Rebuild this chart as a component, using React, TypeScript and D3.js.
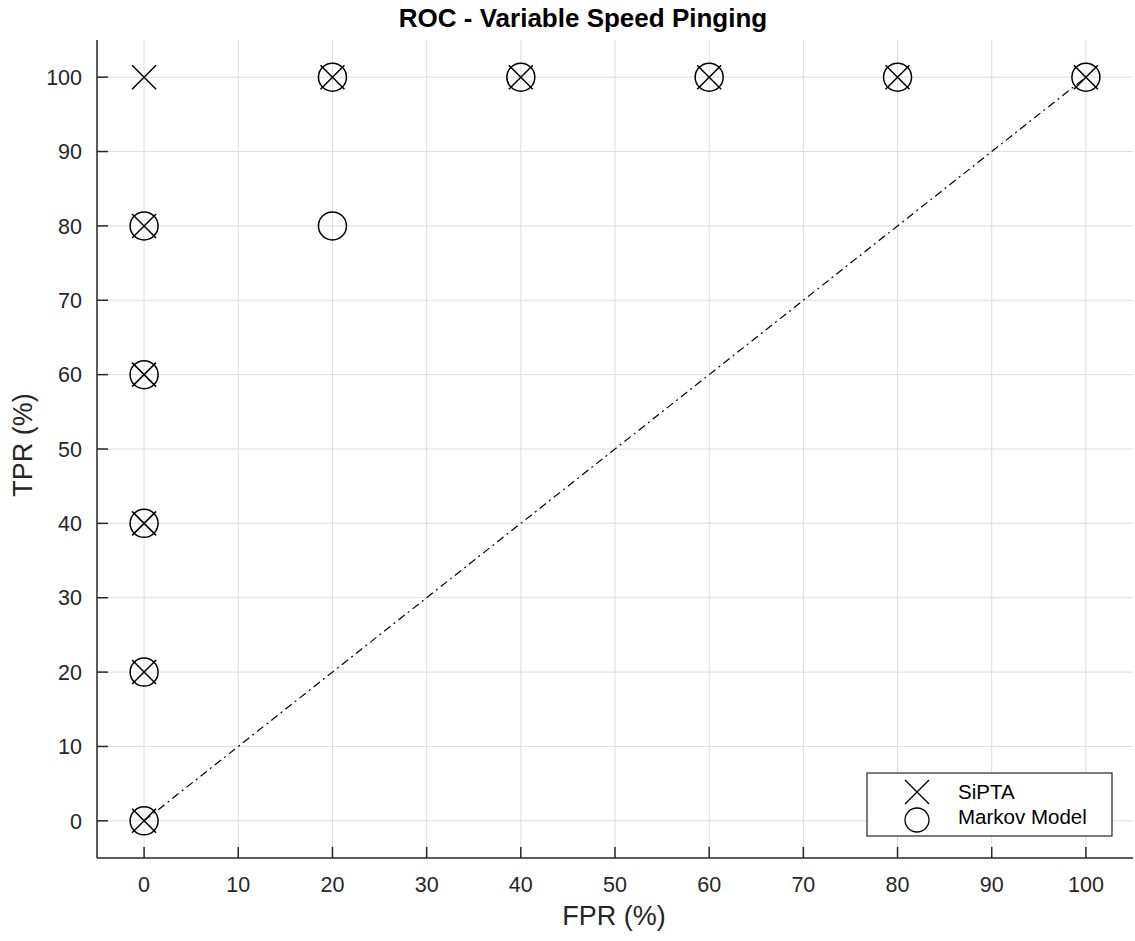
import React from 'react';
import * as d3 from 'd3';

const xTicks = [0, 10, 20, 30, 40, 50, 60, 70, 80, 90, 100];
const yTicks = [0, 10, 20, 30, 40, 50, 60, 70, 80, 90, 100];

// SiPTA points (FPR, TPR)
const sipta = [
  [0, 100], [20, 100], [40, 100], [60, 100], [80, 100], [100, 100],
  [0, 80], [0, 60], [0, 40], [0, 20], [0, 0],
];

// Markov Model points
const markov = [
  [20, 100], [40, 100], [60, 100], [80, 100], [100, 100],
  [0, 80], [20, 80], [0, 60], [0, 40], [0, 20], [0, 0],
];

const chance = [[0, 0], [100, 100]];

const width = 1135;
const height = 941;
const margin = { top: 40, right: 2, bottom: 83, left: 97 };
const font = "'Liberation Sans', Arial, Helvetica, sans-serif";

export default function App() {
  const x = d3.scaleLinear().domain([-5, 105]).range([margin.left, width - margin.right]);
  const y = d3.scaleLinear().domain([-5, 105]).range([height - margin.bottom, margin.top]);
  const line = d3.line<number[]>().x(d => x(d[0])).y(d => y(d[1]));
  const x0 = margin.left;
  const y0 = height - margin.bottom;
  const xs = 12;
  const r = 14;

  return (
    <svg width={width} height={height} style={{ position: 'absolute', left: 0, top: 0, background: '#fff' }}>
      <rect width={width} height={height} fill="#fff" />
      {/* grid */}
      {xTicks.map(t => (
        <line key={'gx' + t} x1={x(t)} x2={x(t)} y1={margin.top} y2={y0} stroke="#dcdcdc" strokeWidth={1} />
      ))}
      {yTicks.map(t => (
        <line key={'gy' + t} x1={x0} x2={width - margin.right} y1={y(t)} y2={y(t)} stroke="#dcdcdc" strokeWidth={1} />
      ))}

      {/* chance line */}
      <path d={line(chance) || ''} fill="none" stroke="#000" strokeWidth={1.2} strokeDasharray="8 4 2 4" />

      {/* markers */}
      {sipta.map((d, i) => (
        <path key={'s' + i}
          d={`M${x(d[0]) - xs},${y(d[1]) - xs}L${x(d[0]) + xs},${y(d[1]) + xs}M${x(d[0]) - xs},${y(d[1]) + xs}L${x(d[0]) + xs},${y(d[1]) - xs}`}
          stroke="#000" strokeWidth={1.5} fill="none" />
      ))}
      {markov.map((d, i) => (
        <circle key={'m' + i} cx={x(d[0])} cy={y(d[1])} r={r} fill="none" stroke="#000" strokeWidth={1.5} />
      ))}

      {/* axes */}
      <line x1={x0} x2={x0} y1={margin.top} y2={y0} stroke="#262626" strokeWidth={1.5} />
      <line x1={x0} x2={width - margin.right} y1={y0} y2={y0} stroke="#262626" strokeWidth={1.5} />
      {xTicks.map(t => (
        <g key={'tx' + t}>
          <line x1={x(t)} x2={x(t)} y1={y0} y2={y0 - 11} stroke="#262626" strokeWidth={1.5} />
          <text x={x(t)} y={892} textAnchor="middle" fontFamily={font} fontSize={21.5} fill="#262626">{t}</text>
        </g>
      ))}
      {yTicks.map(t => (
        <g key={'ty' + t}>
          <line x1={x0} x2={x0 + 11} y1={y(t)} y2={y(t)} stroke="#262626" strokeWidth={1.5} />
          <text x={x0 - 15} y={y(t)} dy="0.36em" textAnchor="end" fontFamily={font} fontSize={21.5} fill="#262626">{t}</text>
        </g>
      ))}

      {/* labels */}
      <text x={614} y={925} textAnchor="middle" fontFamily={font} fontSize={27} fill="#262626">FPR (%)</text>
      <text transform={`translate(32,445) rotate(-90)`} textAnchor="middle" fontFamily={font} fontSize={27} fill="#262626">TPR (%)</text>
      <text x={583} y={27} textAnchor="middle" fontFamily={font} fontSize={26} fontWeight="bold" fill="#000">ROC - Variable Speed Pinging</text>

      {/* legend */}
      <g>
        <rect x={867} y={773} width={245} height={63} fill="#fff" stroke="#262626" strokeWidth={1.2} />
        <path d={`M${917 - 12},${792 - 12}L${917 + 12},${792 + 12}M${917 - 12},${792 + 12}L${917 + 12},${792 - 12}`} stroke="#000" strokeWidth={1.3} />
        <circle cx={917} cy={820} r={12} fill="none" stroke="#000" strokeWidth={1.3} />
        <text x={958} y={799} fontFamily={font} fontSize={20.5} fill="#000">SiPTA</text>
        <text x={958} y={824} fontFamily={font} fontSize={20.5} fill="#000">Markov Model</text>
      </g>
    </svg>
  );
}
